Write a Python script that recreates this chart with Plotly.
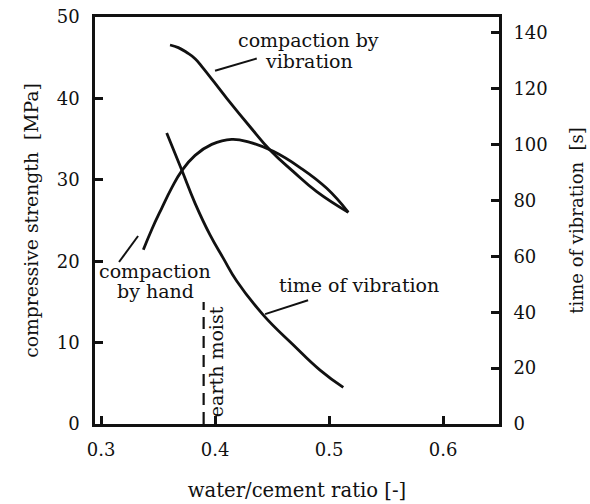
import plotly.graph_objects as go

# ---- data ----
# compressive strength [MPa], compaction by vibration
vib_x = [0.3605, 0.3678, 0.3752, 0.3825, 0.3897, 0.4103, 0.4307, 0.4482, 0.4687, 0.4892, 0.5169]
vib_y = [46.56, 46.24, 45.64, 44.88, 43.70, 40.01, 36.52, 33.66, 31.00, 28.54, 26.0]

# compressive strength [MPa], compaction by hand
hand_x = [0.3371, 0.3445, 0.3532, 0.3620, 0.3708, 0.3825, 0.3971, 0.4146, 0.4307, 0.4511, 0.4746, 0.4980, 0.5169]
hand_y = [21.4, 23.9, 26.5, 29.0, 31.1, 33.0, 34.35, 34.97, 34.6, 33.5, 31.5, 28.95, 26.0]

# time of vibration [s]
time_x = [0.3576, 0.3708, 0.3825, 0.3956, 0.4073, 0.4190, 0.4424, 0.4687, 0.4921, 0.5125]
time_y = [104.2, 90.9, 79.0, 67.7, 59.3, 51.2, 39.0, 28.3, 19.3, 13.1]

# "earth moist" limit
moist_x = [0.39, 0.39]
moist_y = [0, 15]

x_ticks = [0.3, 0.4, 0.5, 0.6]
x_ticktext = ["0.3", "0.4", "0.5", "0.6"]
y_left_ticks = [0, 10, 20, 30, 40, 50]
y_right_ticks = [0, 20, 40, 60, 80, 100, 120, 140]

FONT = "DejaVu Serif"
FS = 18
INK = "#111111"
LW = 2.8
SMOOTH = 1.3

fig = go.Figure()
fig.add_trace(go.Scatter(x=vib_x, y=vib_y, mode="lines",
                         line=dict(color=INK, width=LW, shape="spline", smoothing=SMOOTH), showlegend=False))
fig.add_trace(go.Scatter(x=hand_x, y=hand_y, mode="lines",
                         line=dict(color=INK, width=LW, shape="spline", smoothing=SMOOTH), showlegend=False))
fig.add_trace(go.Scatter(x=moist_x, y=moist_y, mode="lines",
                         line=dict(color=INK, width=2.2, dash="12px,7px"), showlegend=False))
fig.add_trace(go.Scatter(x=time_x, y=time_y, mode="lines", yaxis="y2",
                         line=dict(color=INK, width=LW, shape="spline", smoothing=SMOOTH), showlegend=False))

# leader lines
for (x0, y0, x1, y1) in [(0.400, 43.4, 0.4366, 44.9),
                          (0.3158, 19.9, 0.3325, 23.1),
                          (0.4439, 13.5, 0.4816, 15.2)]:
    fig.add_shape(type="line", x0=x0, y0=y0, x1=x1, y1=y1, xref="x", yref="y",
                  line=dict(color=INK, width=2))


def ann(text, x, y, angle=0):
    fig.add_annotation(text=text, x=x, y=y, xref="x", yref="y", showarrow=False,
                       textangle=angle, font=dict(family=FONT, size=FS + 1, color=INK))


ann("compaction by", 0.4816, 47.17)
ann("vibration", 0.4825, 44.6)
ann("compaction", 0.3474, 18.8)
ann("by hand", 0.3474, 16.34)
ann("time of vibration", 0.5263, 17.08)
ann("earth moist", 0.4010, 7.62, -90)

axis_common = dict(showline=True, linecolor=INK, linewidth=2.6, ticks="inside",
                   ticklen=8, tickwidth=2.6, tickcolor=INK, showgrid=False, zeroline=False,
                   automargin=False,
                   tickfont=dict(family=FONT, size=FS, color=INK))

fig.update_layout(
    width=590, height=504,
    margin=dict(l=95, r=91, t=17, b=80),
    paper_bgcolor="white", plot_bgcolor="white",
    xaxis=dict(range=[0.2947, 0.6491], tickvals=x_ticks, ticktext=x_ticktext,
               mirror=True, ticklabelstandoff=8,
               title=dict(text="water/cement ratio [-]",
                          font=dict(family=FONT, size=19.6, color=INK), standoff=24),
               **axis_common),
    yaxis=dict(range=[0, 50], tickvals=y_left_ticks, ticklabelstandoff=9,
               title=dict(text="compressive strength \u00a0[MPa]",
                          font=dict(family=FONT, size=18.8, color=INK), standoff=14),
               **axis_common),
    yaxis2=dict(range=[0, 145.7], tickvals=y_right_ticks, overlaying="y", side="right",
                ticklabelstandoff=8,
                title=dict(text="time of vibration \u00a0[s]",
                           font=dict(family=FONT, size=FS, color=INK), standoff=24),
                **axis_common),
)

fig.write_html("out.html")
